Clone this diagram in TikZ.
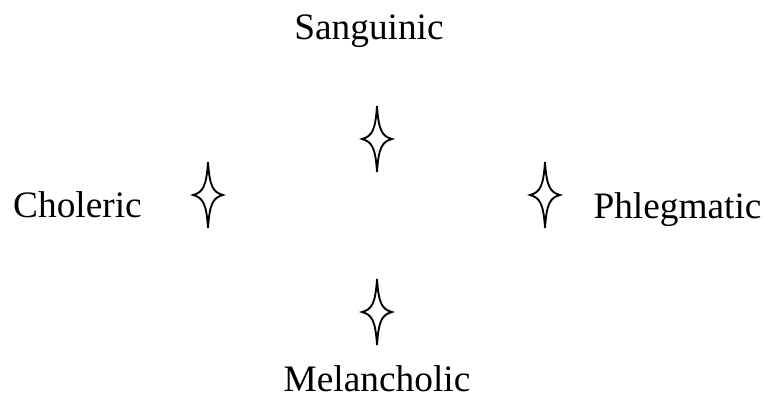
\documentclass[tikz,border=0pt]{standalone}
\usepackage{fontspec}
\setmainfont{Liberation Serif}
\usepackage{tikz}
\tikzstyle{sparkle} = [rectangle, inner sep=0pt, minimum width=28pt, minimum height=54pt,
    path picture={\draw[line width=1.4pt, shift={(path picture bounding box.center)}]
        (0,24.75pt) .. controls (1.2pt,6pt) and (4pt,2pt) .. (11.25pt,0)
        .. controls (4pt,-2pt) and (1.2pt,-6pt) .. (0,-24.75pt)
        .. controls (-1.2pt,-6pt) and (-4pt,-2pt) .. (-11.25pt,0)
        .. controls (-4pt,2pt) and (-1.2pt,6pt) .. cycle;}]
\tikzstyle{temper} = [inner sep=0pt, text height=16.4pt, text depth=3pt,
    font=\fontsize{28}{34}\selectfont]

\begin{document}
\begin{tikzpicture}[x=0.75pt, y=-0.75pt, node distance=2cm]
    \useasboundingbox (0,0) rectangle (766,400);
    % Place stars
    \coordinate (mid) at (377,195);
    \node [sparkle, above of=mid, node distance=42pt] (sangStar) {};
    \node [sparkle, below of=mid, node distance=87.75pt] (melStar) {};
    \node [sparkle, left of=mid, node distance=126.75pt] (cholStar) {};
    \node [sparkle, right of=mid, node distance=126pt] (phlStar) {};

    % Place labels
    \node [temper, above of=sangStar, node distance=81pt, xshift=-6pt] (sang) {Sanguinic};
    \node [temper, below of=melStar, node distance=53pt] (mel) {Melancholic};
    \node [temper, left of=cholStar, node distance=97.9pt, yshift=-10.5pt] (chol) {Choleric};
    \node [temper, right of=phlStar, node distance=99.4pt, yshift=-11.25pt] (phl) {Phlegmatic};
\end{tikzpicture}
\end{document}
